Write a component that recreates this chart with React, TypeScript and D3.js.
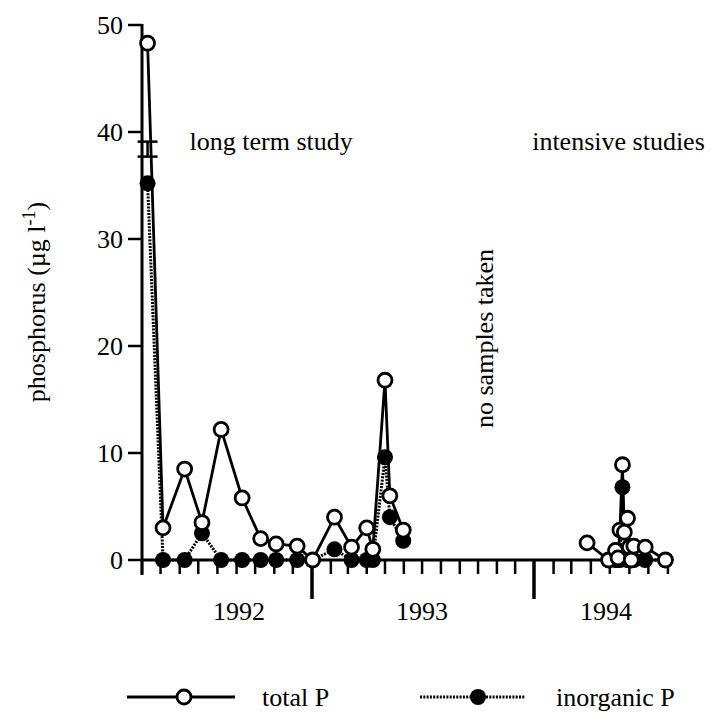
import React from "react";
import * as d3 from "d3";

// ---- data ----
const longTermDates = [
  "1992-04-10", "1992-05-05", "1992-06-09", "1992-07-07", "1992-08-07", "1992-09-10",
  "1992-10-10", "1992-11-04", "1992-12-08", "1993-01-02", "1993-02-07", "1993-03-07",
  "1993-04-01", "1993-04-11", "1993-05-01", "1993-05-09", "1993-05-31",
];
const longTermTotalP = [48.3, 3.0, 8.5, 3.5, 12.2, 5.8, 2.0, 1.5, 1.3, 0, 4.0, 1.2, 3.0, 1.0, 16.8, 6.0, 2.8];
const longTermInorgP: (number | null)[] = [35.2, 0, 0, 2.5, 0, 0, 0, 0, 0, 0, 1.0, 0, 0, 0, 9.6, 4.0, 1.8];

const intensiveDates = [
  "1994-03-26", "1994-04-29", "1994-05-10", "1994-05-14", "1994-05-17", "1994-05-21",
  "1994-05-24", "1994-05-29", "1994-06-01", "1994-06-04", "1994-06-08", "1994-06-26", "1994-07-28",
];
const intensiveTotalP = [1.6, 0, 0.9, 0.2, 2.8, 8.9, 2.6, 3.9, 1.2, 0, 1.3, 1.2, 0];
const intensiveInorgP: (number | null)[] = [null, 0, 0, 0, 0, 6.8, 0.5, 0, 0, 0, 0, 0, 0];

// error bar on the first sample
const errorBarDate = "1992-04-10";
const errorBarLow = 37.7;
const errorBarHigh = 39.1;

const yTicks = [0, 10, 20, 30, 40, 50];
const yearLabels = ["1992", "1993", "1994"];
const yearLabelDates = ["1992-09-05", "1993-07-01", "1994-04-25"];

const annotations = [
  { text: "long term study", date: "1992-06-17", value: 38.3 },
  { text: "intensive studies", date: "1993-12-29", value: 38.3 },
];

const parse = (s: string) => {
  const [y, m, d] = s.split("-").map(Number);
  return new Date(y, m - 1, d);
};

const FONT = "Liberation Serif, Times New Roman, serif";

export default function App() {
  const x = d3
    .scaleTime()
    .domain([new Date(1992, 3, 1), new Date(1993, 0, 1), new Date(1994, 0, 1), new Date(1994, 7, 9)])
    .range([142, 312, 534, 673]);
  const y = d3.scaleLinear().domain([0, 50]).range([560, 25]);

  const months = d3.timeMonth.range(new Date(1992, 3, 1), new Date(1994, 7, 9));

  const mk = (dates: string[], vals: (number | null)[]) =>
    dates.map((d, i) => ({ d: parse(d), v: vals[i] }));

  const segs = [
    { tot: mk(longTermDates, longTermTotalP), ino: mk(longTermDates, longTermInorgP) },
    { tot: mk(intensiveDates, intensiveTotalP), ino: mk(intensiveDates, intensiveInorgP) },
  ];

  const line = d3
    .line<{ d: Date; v: number | null }>()
    .defined((p) => p.v != null)
    .x((p) => x(p.d))
    .y((p) => y(p.v as number));

  const ebx = x(parse(errorBarDate));
  const ts = { fontFamily: FONT, fontSize: 26 };

  return (
    <div style={{ position: "absolute", left: 0, top: 0 }}>
      <svg width={714} height={715} style={{ display: "block", background: "#fff", fontFamily: FONT }}>
        {/* y axis */}
        <line x1={142} x2={142} y1={y(50) - 1} y2={575} stroke="#000" strokeWidth={3} />
        {yTicks.map((t) => (
          <g key={t}>
            <line x1={128} x2={142} y1={y(t)} y2={y(t)} stroke="#000" strokeWidth={2.5} />
            <text x={123} y={y(t) + 9} textAnchor="end" style={ts}>
              {t}
            </text>
          </g>
        ))}
        {/* x axis */}
        <line x1={141} x2={673} y1={y(0)} y2={y(0)} stroke="#000" strokeWidth={3} />
        {months.map((m, i) => {
          const major = m.getMonth() === 0;
          return (
            <line
              key={i}
              x1={x(m)}
              x2={x(m)}
              y1={y(0)}
              y2={major ? 599 : 574}
              stroke="#000"
              strokeWidth={major ? 3.5 : 2.5}
            />
          );
        })}
        {yearLabels.map((l, i) => (
          <text key={l} x={x(parse(yearLabelDates[i]))} y={620} textAnchor="middle" style={ts}>
            {l}
          </text>
        ))}

        {/* y title */}
        <text transform="translate(45,302) rotate(-90)" textAnchor="middle" style={ts}>
          phosphorus (µg l
          <tspan dy={-10} style={{ fontSize: 18 }}>-1</tspan>
          <tspan dy={10}>)</tspan>
        </text>

        {/* annotations */}
        {annotations.map((a) => (
          <text key={a.text} x={x(parse(a.date))} y={y(a.value)} style={ts}>
            {a.text}
          </text>
        ))}
        <text transform="translate(493,428) rotate(-90)" style={ts}>
          no samples taken
        </text>

        {/* lines */}
        {segs.map((s, i) => (
          <g key={i}>
            <path d={line(s.ino) || ""} fill="none" stroke="#000" strokeWidth={3} strokeDasharray="2,1.3" />
            <path d={line(s.tot) || ""} fill="none" stroke="#000" strokeWidth={2.8} />
          </g>
        ))}

        {/* error bar */}
        <line x1={ebx} x2={ebx} y1={y(errorBarHigh)} y2={y(errorBarLow)} stroke="#000" strokeWidth={2.5} />
        <line x1={ebx - 10} x2={ebx + 10} y1={y(errorBarHigh)} y2={y(errorBarHigh)} stroke="#000" strokeWidth={2.5} />
        <line x1={ebx - 10} x2={ebx + 10} y1={y(errorBarLow)} y2={y(errorBarLow)} stroke="#000" strokeWidth={2.5} />

        {/* points */}
        {segs.map((s, i) => (
          <g key={"p" + i}>
            {s.ino
              .filter((p) => p.v != null)
              .map((p, j) => (
                <circle key={"i" + j} cx={x(p.d)} cy={y(p.v as number)} r={8} fill="#000" />
              ))}
            {s.tot.map((p, j) => (
              <circle key={"t" + j} cx={x(p.d)} cy={y(p.v as number)} r={7} fill="#fff" stroke="#000" strokeWidth={2.8} />
            ))}
          </g>
        ))}

        {/* legend */}
        <line x1={127} x2={235} y1={697} y2={697} stroke="#000" strokeWidth={2.8} />
        <circle cx={184} cy={697} r={7} fill="#fff" stroke="#000" strokeWidth={2.8} />
        <text x={262} y={706} style={ts}>
          total P
        </text>
        <line x1={420} x2={525} y1={697} y2={697} stroke="#000" strokeWidth={3} strokeDasharray="2,1.3" />
        <circle cx={478} cy={697} r={8} fill="#000" />
        <text x={556} y={706} style={ts}>
          inorganic P
        </text>
      </svg>
    </div>
  );
}
